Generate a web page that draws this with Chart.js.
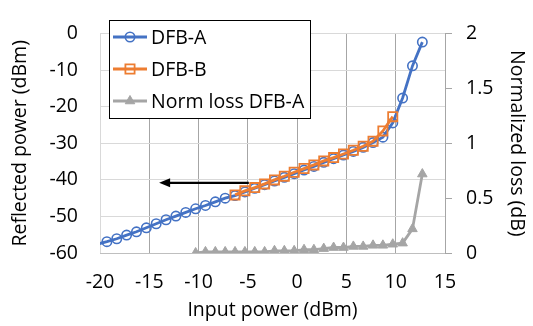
<!DOCTYPE html>
<html>
<head>
<meta charset="utf-8">
<script src="https://cdn.jsdelivr.net/npm/chart.js@4/dist/chart.umd.min.js"></script>
<style>
  html, body { margin: 0; padding: 0; background: #fff; }
  #wrap { width: 533px; height: 326px; }
</style>
</head>
<body>
<div id="wrap"><canvas id="lossChart"></canvas></div>
<script>
// data
const inputA = [-20.3, -19.3, -18.3, -17.3, -16.3, -15.3, -14.3, -13.3, -12.3, -11.3, -10.3, -9.3, -8.3, -7.3,
    -6.3, -5.3, -4.3, -3.3, -2.3, -1.3, -0.3, 0.7, 1.7, 2.7, 3.7, 4.7, 5.7, 6.7, 7.7, 8.7, 9.7, 10.7, 11.7, 12.7];
const reflA = [-57.6, -56.9, -56.1, -55.1, -54.2, -53.1, -52.0, -50.9, -49.9, -48.9, -47.9, -47.0, -46.0, -45.0,
    -44.3, -43.3, -42.3, -41.3, -40.3, -39.3, -38.3, -37.3, -36.3, -35.2, -34.2, -33.2, -32.2, -31.1, -29.8, -28.3, -24.4, -17.6, -8.8, -2.3];

const inputB = [-6.3, -5.3, -4.3, -3.3, -2.3, -1.3, -0.3, 0.7, 1.7, 2.7, 3.7, 4.7, 5.7, 6.7, 7.7, 8.7, 9.7];
const reflB = [-44.1, -43.0, -42.1, -41.1, -40.0, -39.0, -37.9, -36.9, -35.9, -34.8, -33.9, -32.9, -31.9, -30.8, -29.4, -26.6, -22.7];

const inputLoss = [-10.3, -9.3, -8.3, -7.3, -6.3, -5.3, -4.3, -3.3, -2.3, -1.3, -0.3, 0.7, 1.7, 2.7, 3.7, 4.7,
    5.7, 6.7, 7.7, 8.7, 9.7, 10.7, 11.7, 12.7];
const lossA = [0.00, 0.01, 0.01, 0.01, 0.01, 0.01, 0.01, 0.01, 0.02, 0.02, 0.02, 0.03, 0.03, 0.04, 0.05, 0.05,
    0.06, 0.06, 0.07, 0.07, 0.08, 0.09, 0.22, 0.72];

const xTicks = [-20, -15, -10, -5, 0, 5, 10, 15];
const yLeftTicks = [-60, -50, -40, -30, -20, -10, 0];
const yRightTicks = [0, 0.5, 1, 1.5, 2];

// arrow pointing to left axis (data units)
const arrowFrom = { x: -4.9, y: -40.8 };
const arrowTo = { x: -14.0, y: -40.8 };

const FONT = 'Open Sans';
const BLUE = '#4472C4';
const ORANGE = '#ED7D31';
const GRAY = '#A5A5A5';

function pts(xs, ys) {
    return xs.map((x, i) => ({ x: x, y: ys[i] }));
}

// Arrow annotation
const arrowPlugin = {
    id: 'arrow',
    afterDatasetsDraw(chart) {
        const ctx = chart.ctx;
        const sx = chart.scales.x, sy = chart.scales.y;
        const x1 = sx.getPixelForValue(arrowFrom.x), y1 = sy.getPixelForValue(arrowFrom.y);
        const x2 = sx.getPixelForValue(arrowTo.x), y2 = sy.getPixelForValue(arrowTo.y);
        ctx.save();
        ctx.strokeStyle = '#000';
        ctx.fillStyle = '#000';
        ctx.lineWidth = 2.2;
        ctx.beginPath();
        ctx.moveTo(x1, y1);
        ctx.lineTo(x2 + 8, y2);
        ctx.stroke();
        ctx.beginPath();
        ctx.moveTo(x2, y2);
        ctx.lineTo(x2 + 11, y2 - 4.5);
        ctx.lineTo(x2 + 11, y2 + 4.5);
        ctx.closePath();
        ctx.fill();
        ctx.restore();
    }
};

// Boxed legend inside the plot
const boxLegend = {
    id: 'boxLegend',
    afterDraw(chart) {
        const ctx = chart.ctx;
        const left = 109, top = 20, w = 201, h = 98;
        ctx.save();
        ctx.fillStyle = '#fff';
        ctx.fillRect(left, top, w, h);
        ctx.strokeStyle = '#000';
        ctx.lineWidth = 1;
        ctx.strokeRect(left + 0.5, top + 0.5, w, h);
        const rows = [37, 69, 101];
        chart.data.datasets.forEach((ds, i) => {
            const y = rows[i];
            ctx.strokeStyle = ds.borderColor;
            ctx.lineWidth = ds.borderWidth;
            ctx.beginPath();
            ctx.moveTo(113, y);
            ctx.lineTo(147, y);
            ctx.stroke();
            ctx.fillStyle = ds.pointBackgroundColor;
            ctx.strokeStyle = ds.pointBorderColor;
            ctx.lineWidth = ds.pointBorderWidth;
            Chart.helpers.drawPoint(ctx, {
                pointStyle: ds.pointStyle,
                radius: ds.legendRadius,
                borderWidth: ds.pointBorderWidth,
                rotation: 0
            }, 130, y);
            ctx.fillStyle = '#000';
            ctx.font = '19.5px "' + FONT + '"';
            ctx.textBaseline = 'middle';
            ctx.textAlign = 'left';
            ctx.fillText(ds.label, 151, y + 1);
        });
        ctx.restore();
    }
};

document.addEventListener('DOMContentLoaded', function() {
    Chart.defaults.font.family = FONT;
    Chart.defaults.font.size = 19.5;
    Chart.defaults.color = '#000';

    const xMin = -20;

    new Chart(document.getElementById('lossChart'), {
        type: 'line',
        data: {
            datasets: [
                {
                    label: 'DFB-A',
                    data: pts(inputA, reflA),
                    yAxisID: 'y',
                    borderColor: BLUE,
                    borderWidth: 2.8,
                    pointStyle: 'circle',
                    pointRadius: c => (c.raw && c.raw.x < xMin) ? 0 : 4.7,
                    legendRadius: 4.7,
                    pointBackgroundColor: 'rgba(0,0,0,0)',
                    pointBorderColor: BLUE,
                    pointBorderWidth: 1.6,
                    tension: 0,
                    order: 1
                },
                {
                    label: 'DFB-B',
                    data: pts(inputB, reflB),
                    yAxisID: 'y',
                    borderColor: ORANGE,
                    borderWidth: 2.8,
                    pointStyle: 'rect',
                    pointRadius: 6.5,
                    legendRadius: 6.5,
                    pointBackgroundColor: 'rgba(0,0,0,0)',
                    pointBorderColor: ORANGE,
                    pointBorderWidth: 1.8,
                    tension: 0,
                    order: 0
                },
                {
                    label: 'Norm loss DFB-A',
                    data: pts(inputLoss, lossA),
                    yAxisID: 'y2',
                    borderColor: GRAY,
                    borderWidth: 2.8,
                    pointStyle: 'triangle',
                    pointRadius: 5.5,
                    legendRadius: 5.5,
                    pointBackgroundColor: GRAY,
                    pointBorderColor: GRAY,
                    pointBorderWidth: 1,
                    tension: 0,
                    order: 2
                }
            ]
        },
        options: {
            responsive: true,
            maintainAspectRatio: false,
            animation: false,
            layout: { padding: { top: 15, left: 0, right: 0, bottom: 0 } },
            plugins: {
                legend: { display: false },
                tooltip: { enabled: false }
            },
            scales: {
                x: {
                    type: 'linear',
                    min: -20,
                    max: 15,
                    afterBuildTicks: s => { s.ticks = xTicks.map(v => ({ value: v })); },
                    afterFit: s => { s.height = 73; },
                    grid: {
                        color: c => c.index === 0 ? '#d9d9d9' : '#a6a6a6',
                        drawTicks: false
                    },
                    border: { display: true, color: '#bfbfbf' },
                    ticks: { padding: 18, maxRotation: 0, callback: v => String(v) },
                    title: {
                        display: true,
                        text: 'Input power (dBm)',
                        padding: { top: 0, bottom: 4 }
                    }
                },
                y: {
                    type: 'linear',
                    position: 'left',
                    min: -60,
                    max: 0,
                    afterBuildTicks: s => { s.ticks = yLeftTicks.map(v => ({ value: v })); },
                    afterFit: s => { s.width = 100; },
                    grid: { color: '#d9d9d9', drawTicks: false },
                    border: { display: false },
                    ticks: { padding: 22, callback: v => String(v) },
                    title: {
                        display: true,
                        text: 'Reflected power (dBm)',
                        padding: { top: 9, bottom: 0 }
                    }
                },
                y2: {
                    type: 'linear',
                    position: 'right',
                    min: 0,
                    max: 2,
                    afterBuildTicks: s => { s.ticks = yRightTicks.map(v => ({ value: v })); },
                    afterFit: s => { s.width = 88; },
                    grid: { drawOnChartArea: false, drawTicks: true, tickLength: 7, color: '#a6a6a6' },
                    border: { display: true, color: '#a6a6a6' },
                    ticks: { padding: 14, callback: v => String(v) },
                    title: {
                        display: true,
                        text: 'Normalized loss (dB)',
                        padding: { top: 5, bottom: 0 }
                    }
                }
            }
        },
        plugins: [arrowPlugin, boxLegend]
    });
});
</script>
</body>
</html>
